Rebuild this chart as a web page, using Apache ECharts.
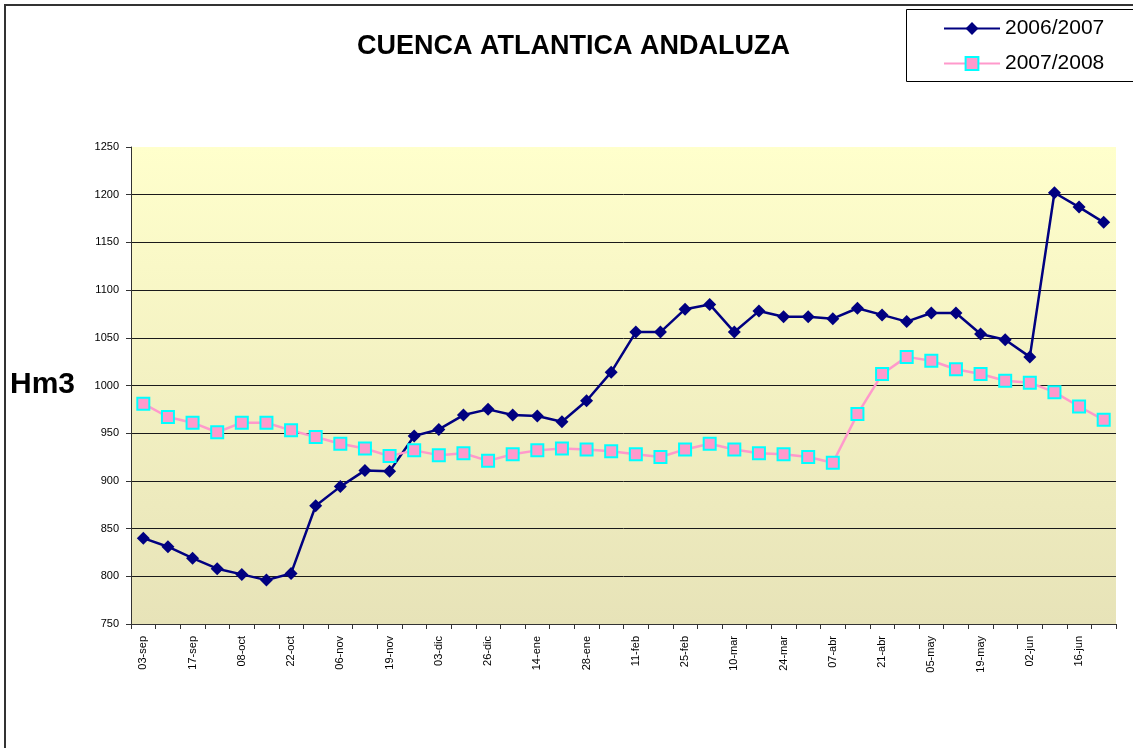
<!DOCTYPE html>
<html>
<head>
    <meta charset="UTF-8">
    <title>Cuenca Atlantica Andaluza</title>
    <script src="https://cdn.jsdelivr.net/npm/echarts@6/dist/echarts.min.js"></script>
    <style>
        html, body { margin: 0; padding: 0; background: #fff; }
        #chart { width: 1133px; height: 748px; }
    </style>
</head>
<body>
<div id="chart"></div>
<script type="text/javascript">

    // semanas (solo se ven una de cada dos en el eje)
    var weeks = ['03-sep', '10-sep', '17-sep', '01-oct', '08-oct', '15-oct', '22-oct', '30-oct',
        '06-nov', '13-nov', '19-nov', '26-nov', '03-dic', '11-dic', '26-dic', '08-ene',
        '14-ene', '22-ene', '28-ene', '04-feb', '11-feb', '18-feb', '25-feb', '04-mar',
        '10-mar', '17-mar', '24-mar', '31-mar', '07-abr', '14-abr', '21-abr', '28-abr',
        '05-may', '12-may', '19-may', '26-may', '02-jun', '09-jun', '16-jun', '23-jun'];

    var s0607 = [840, 831, 819, 808, 802, 796, 803, 874, 894, 911,
        910, 947, 954, 969, 975, 969, 968, 962, 984, 1014,
        1056, 1056, 1080, 1085, 1056, 1078, 1072, 1072, 1070, 1081,
        1074, 1067, 1076, 1076, 1054, 1048, 1030, 1202, 1187, 1171];

    var s0708 = [981, 967, 961, 951, 961, 961, 953, 946, 939, 934,
        926, 932, 927, 929, 921, 928, 932, 934, 933, 931,
        928, 925, 933, 939, 933, 929, 928, 925, 919, 970,
        1012, 1030, 1026, 1017, 1012, 1005, 1003, 993, 978, 964];

    var myChart = echarts.init(document.getElementById('chart'));

    myChart.setOption({
        animation: false,
        backgroundColor: '#fff',
        textStyle: {fontFamily: 'Liberation Sans, Arial, sans-serif', color: '#000'},
        title: {
            text: 'CUENCA ATLANTICA ANDALUZA',
            left: 352,
            top: 28,
            textStyle: {fontSize: 27, fontWeight: 'bold', color: '#000'}
        },
        graphic: [
            {   // marco exterior
                type: 'rect', z: 0, silent: true,
                shape: {x: 5, y: 5, width: 1200, height: 800},
                style: {fill: 'none', stroke: '#333', lineWidth: 2}
            },
            {   // caja de la leyenda
                type: 'rect', z: 1, silent: true,
                shape: {x: 906.5, y: 9.5, width: 300, height: 72},
                style: {fill: '#fff', stroke: '#000', lineWidth: 1}
            },
            {
                type: 'text', z: 2, left: 10, top: 370,
                style: {text: 'Hm3', fontSize: 30, fontWeight: 'bold', fill: '#000',
                    fontFamily: 'Liberation Sans, Arial, sans-serif'}
            }
        ],
        legend: {
            orient: 'vertical',
            left: 943,
            top: 18,
            padding: 0,
            itemWidth: 56,
            itemHeight: 16,
            itemGap: 14,
            z: 10,
            textStyle: {fontSize: 21, color: '#000'},
            data: ['2006/2007', '2007/2008']
        },
        grid: {
            left: 131, right: 17, top: 147, bottom: 124,
            show: true,
            borderWidth: 0,
            backgroundColor: new echarts.graphic.LinearGradient(0, 0, 0, 1, [
                {offset: 0, color: '#FFFFCC'},
                {offset: 1, color: '#E7E3B8'}
            ])
        },
        xAxis: {
            type: 'category',
            data: weeks,
            boundaryGap: true,
            axisLine: {lineStyle: {color: '#333', width: 1}},
            axisTick: {show: true, interval: 0, length: 5, lineStyle: {color: '#333'}},
            axisLabel: {interval: 1, rotate: 90, fontSize: 11, color: '#000', margin: 12}
        },
        yAxis: {
            type: 'value',
            min: 750, max: 1250, interval: 50,
            axisLine: {show: true, lineStyle: {color: '#333', width: 1}},
            axisTick: {show: true, length: 5, lineStyle: {color: '#333'}},
            axisLabel: {
                fontSize: 11, color: '#000', margin: 12,
                formatter: function (v) { return String(v); }
            },
            splitLine: {show: true, showMaxLine: false, lineStyle: {color: '#1a1a1a', width: 1}}
        },
        series: [
            {
                name: '2006/2007',
                type: 'line',
                data: s0607,
                symbol: 'diamond',
                symbolSize: 13,
                lineStyle: {color: '#000080', width: 2.5},
                itemStyle: {color: '#000080'}
            },
            {
                name: '2007/2008',
                type: 'line',
                data: s0708,
                symbol: 'rect',
                symbolSize: 12,
                lineStyle: {color: '#FF99CC', width: 2.5},
                itemStyle: {color: '#FF99CC', borderColor: '#00FFFF', borderWidth: 2}
            }
        ]
    });
</script>
</body>
</html>
